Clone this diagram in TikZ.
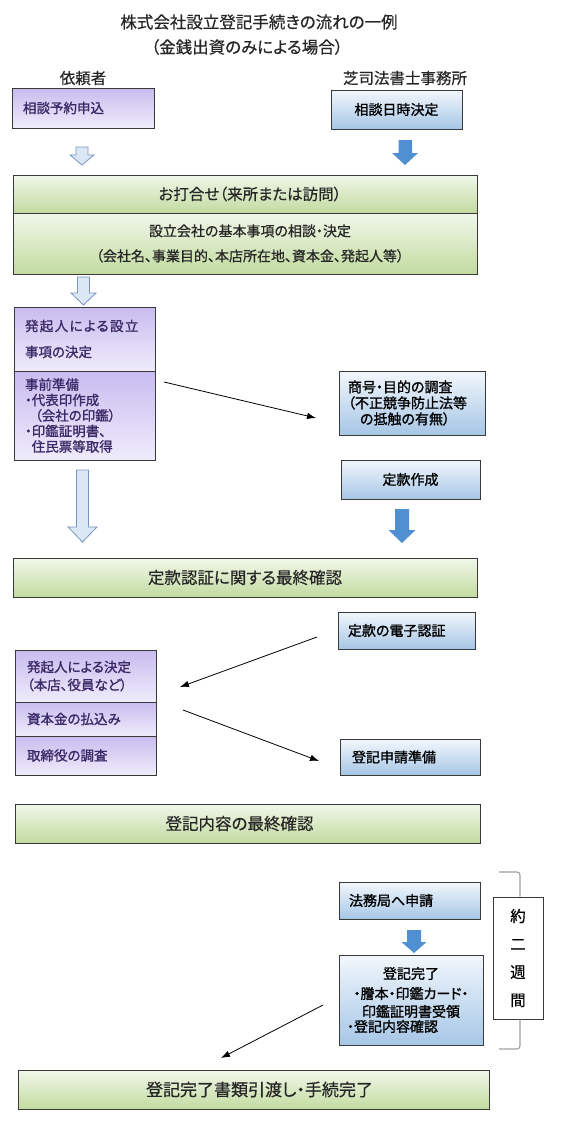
\documentclass[tikz,border=0pt]{standalone}
\usepackage{fontspec}
\newfontfamily\jp[RawFeature=+palt,FakeBold=0.5]{Noto Sans CJK JP}
\newfontfamily\jpb[RawFeature=+palt,FakeBold=1.3]{Noto Sans CJK JP}
\usetikzlibrary{arrows.meta}
\definecolor{pTop}{HTML}{C8BCEF}
\definecolor{pBot}{HTML}{EFECFB}
\definecolor{bTop}{HTML}{F2F7FC}
\definecolor{bBot}{HTML}{A6C6E6}
\definecolor{gTop}{HTML}{F1F7EA}
\definecolor{gBot}{HTML}{C2DBA0}
\definecolor{ptext}{HTML}{3C2A68}
\definecolor{arrowblue}{HTML}{4F8FD2}
\definecolor{hollowfill}{HTML}{DCE7F5}
\definecolor{hollowdraw}{HTML}{7895C2}
\definecolor{edge}{HTML}{3A3A3A}
\tikzset{
  frame/.style={draw=edge, line width=0.7pt, inner ysep=0pt},
  pbox/.style={frame, top color=pTop, bottom color=pBot, text=ptext, align=left, font=\jpb\fontsize{13.5}{15.5}\selectfont},
  bbox/.style={frame, top color=bTop, bottom color=bBot, text=black, font=\jpb\fontsize{14}{16}\selectfont},
  gbox/.style={frame, top color=gTop, bottom color=gBot, text=black!85, align=center, font=\jp\fontsize{16.5}{20}\selectfont},
  plain/.style={inner sep=0pt, text=black!85, font=\jp\fontsize{15.5}{18}\selectfont},
  hollow/.style={fill=hollowfill, draw=hollowdraw, line width=0.8pt, line join=miter},
  solidarrow/.style={fill=arrowblue},
  conn/.style={-{Latex[length=9pt,width=6.5pt]}, line width=0.8pt, black},
  brack/.style={draw=gray!75, line width=1.1pt, rounded corners=3pt},
}
\begin{document}
\begin{tikzpicture}[x=1pt,y=-1pt]
\useasboundingbox (0,0) rectangle (560,1133);

% titles
\node[plain, font=\jp\fontsize{16.5}{20}\selectfont] (t1) at (259,22) {株式会社設立登記手続きの流れの一例};
\node[plain, font=\jp\fontsize{16.5}{20}\selectfont] (t2) at (247,47) {（金銭出資のみによる場合）};
\node[plain] (lab1) at (83,78) {依頼者};
\node[plain] (lab2) at (405,78) {芝司法書士事務所};

% row 1
\node[pbox, minimum width=142pt, minimum height=40pt, inner xsep=11pt, text width=120pt] (req) at (83,108) {相談予約申込};
\node[bbox, minimum width=131pt, minimum height=39pt, align=center] (date) at (396.5,109.5) {相談日時決定};

\draw[hollow] (76,147) -- (88,147) -- (88,155) -- (94,155) -- (82,165) -- (70,155) -- (76,155) -- cycle;
\fill[solidarrow] (398.5,140) -- (412,140) -- (412,153) -- (418,153) -- (405,165) -- (392,153) -- (398.5,153) -- cycle;

% meeting
\node[gbox, minimum width=464pt, minimum height=38pt, font=\jp\fontsize{15.5}{18}\selectfont] (meet) at (245,194) {\hspace*{10pt}お打合せ（来所または訪問）};
\node[gbox, minimum width=464pt, minimum height=61pt, font=\jp\fontsize{14}{25}\selectfont] (basic) at (245,243.5) {\hspace*{10pt}設立会社の基本事項の相談・決定\\\hspace*{10pt}（会社名、事業目的、本店所在地、資本金、発起人等）};

\draw[hollow] (77.5,277) -- (89.5,277) -- (89.5,293) -- (96,293) -- (83.5,305) -- (71,293) -- (77.5,293) -- cycle;

% purple group 1
\node[pbox, minimum width=141pt, minimum height=64pt, inner xsep=11pt, text width=119pt, font=\jpb\fontsize{13.5}{26}\selectfont] (p1a) at (84.5,339) {{\addfontfeature{LetterSpace=10}発起人による設立}\\事項の決定};
\node[pbox, minimum width=141pt, minimum height=89pt, inner xsep=11pt, text width=119pt] (p1b) at (84.5,415.5) {事前準備\\・代表印作成\\\hspace*{10pt}（会社の印鑑）\\・印鑑証明書、\\\phantom{・}住民票等取得};

\node[bbox, minimum width=146pt, minimum height=64pt, inner xsep=9pt, text width=128pt, align=left] (shogo) at (412,403) {商号・目的の調査\\（不正競争防止法等\\\hspace*{12pt}の抵触の有無）};

\coordinate (c1s) at (164,382);
\coordinate (c1e) at (316,418);
\draw[conn] (c1s) -- (c1e);

\node[bbox, minimum width=139pt, minimum height=39pt, align=center] (teikan) at (410.5,479.5) {定款作成};

\draw[hollow] (76.5,470) -- (88.5,470) -- (88.5,527) -- (97,527) -- (82.5,542) -- (68,527) -- (76.5,527) -- cycle;
\fill[solidarrow] (395,509) -- (409,509) -- (409,530) -- (415.5,530) -- (402,543) -- (388.5,530) -- (395,530) -- cycle;

\node[gbox, minimum width=464pt, minimum height=39pt] (check1) at (245,577.5) {定款認証に関する最終確認};

\node[bbox, minimum width=137pt, minimum height=37pt, inner xsep=10pt, text width=117pt, align=left] (denshi) at (406.5,630.5) {定款の電子認証};

% purple group 2
\node[pbox, minimum width=141pt, minimum height=52pt, inner xsep=12pt, text width=117pt, font=\jpb\fontsize{13.5}{18}\selectfont] (p2a) at (85.5,676) {発起人による決定\\（本店、役員など）};
\node[pbox, minimum width=141pt, minimum height=34pt, inner xsep=12pt, text width=117pt] (p2b) at (85.5,719) {資本金の払込み};
\node[pbox, minimum width=141pt, minimum height=39pt, inner xsep=12pt, text width=117pt] (p2c) at (85.5,755.5) {取締役の調査};

\coordinate (c2s) at (317,637);
\coordinate (c2e) at (180,687);
\draw[conn] (c2s) -- (c2e);

\node[bbox, minimum width=140pt, minimum height=36pt, inner xsep=12pt, text width=116pt, align=left] (junbi) at (410,757) {登記申請準備};

\coordinate (c3s) at (183,710);
\coordinate (c3e) at (319,761);
\draw[conn] (c3s) -- (c3e);

\node[gbox, minimum width=465pt, minimum height=39pt] (check2) at (247.5,823.5) {登記内容の最終確認\hspace*{16pt}};

\node[bbox, minimum width=141pt, minimum height=37pt, inner xsep=10pt, text width=121pt, align=left] (homu) at (409.5,900.5) {法務局へ申請};

\fill[solidarrow] (407,930) -- (421,930) -- (421,942) -- (426.5,942) -- (414,953) -- (401.5,942) -- (407,942) -- cycle;

\node[bbox, minimum width=144pt, minimum height=90pt, inner xsep=8pt, text width=128pt, align=center] (kanryo) at (411,1000) {登記完了\\[4pt]・謄本・印鑑カード・\\[2pt]印鑑証明書受領\\[-1pt]\makebox[\linewidth][l]{・登記内容確認}};

\node[frame, fill=white, minimum width=50pt, minimum height=122pt, align=center, inner xsep=0pt, font=\jp\fontsize{15.5}{28}\selectfont] (week) at (518,958) {約\\二\\週\\間};

\coordinate (bt) at (499,872);
\coordinate (bb) at (499,1049);
\draw[brack] (bt) -| ([xshift=2pt]week.north);
\draw[brack] ([xshift=2pt]week.south) |- (bb);

\coordinate (c4s) at (323,1005);
\coordinate (c4e) at (221,1058);
\draw[conn] (c4s) -- (c4e);

\node[gbox, minimum width=471pt, minimum height=39pt, font=\jp\fontsize{17}{20}\selectfont] (done) at (253.5,1089.5) {\hspace*{12pt}登記完了書類引渡し・手続完了};
\end{tikzpicture}
\end{document}
